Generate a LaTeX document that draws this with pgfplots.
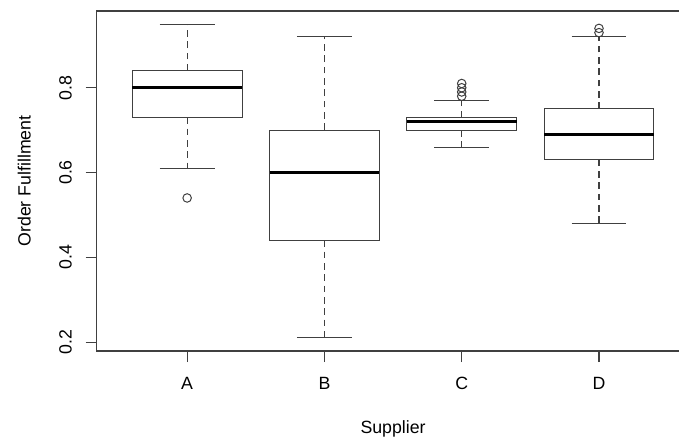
\documentclass[border=0pt]{standalone}
\usepackage{fontspec}
\setmainfont{Liberation Sans}
\usepackage{pgfplots}
\pgfplotsset{compat=1.18}
\usepgfplotslibrary{statistics}
\definecolor{frame}{gray}{0.25}
\pgfplotsset{
  rbox/.style={
    mark=o,
    mark size=3.2pt,
    mark options={solid, draw=frame, line width=0.75pt},
    boxplot/draw direction=y,
    boxplot/box extend=0.8,
    boxplot/whisker extend=0.4,
    boxplot/every box/.style={draw=frame, line width=0.8pt, fill=white},
    boxplot/every median/.style={draw=black, line width=2.5pt},
    boxplot/draw/lower whisker/.code={%
      \draw[draw=frame, line width=0.8pt, dash pattern=on 5pt off 3.5pt]
        (boxplot box cs:\pgfplotsboxplotvalue{lower quartile},0.5) --
        (boxplot box cs:\pgfplotsboxplotvalue{lower whisker},0.5);
      \draw[draw=frame, line width=0.8pt]
        (boxplot whisker cs:\pgfplotsboxplotvalue{lower whisker},0) --
        (boxplot whisker cs:\pgfplotsboxplotvalue{lower whisker},1);
    },
    boxplot/draw/upper whisker/.code={%
      \draw[draw=frame, line width=0.8pt, dash pattern=on 5pt off 3.5pt]
        (boxplot box cs:\pgfplotsboxplotvalue{upper quartile},0.5) --
        (boxplot box cs:\pgfplotsboxplotvalue{upper whisker},0.5);
      \draw[draw=frame, line width=0.8pt]
        (boxplot whisker cs:\pgfplotsboxplotvalue{upper whisker},0) --
        (boxplot whisker cs:\pgfplotsboxplotvalue{upper whisker},1);
    },
  }
}
\begin{document}
\begin{tikzpicture}[font=\fontsize{13.3pt}{16pt}\selectfont]
\useasboundingbox (0,0) rectangle (509.25pt,327.75pt);
\clip (0,0) rectangle (509.25pt,327.75pt);
\begin{axis}[
  at={(72.4pt,64.5pt)}, anchor=south west,
  scale only axis, width=444.8pt, height=255pt,
  xmin=0.34, xmax=4.66, ymin=0.179, ymax=0.981,
  xtick={1,2,3,4}, xticklabels={A,B,C,D},
  ytick={0.2,0.4,0.6,0.8},
  yticklabels={0.2,0.4,0.6,0.8},
  tick pos=left, tick align=outside,
  major tick length=8.25pt,
  every tick/.style={draw=frame, line width=0.8pt},
  axis line style={draw=frame, line width=0.8pt},
  xticklabel style={anchor=base, yshift=-20.6pt},
  yticklabel style={xshift=-10.4pt, rotate=90, anchor=base},
  xlabel={Supplier}, ylabel={Order Fulfillment},
  every axis x label/.style={at={(axis description cs:0.5,0)}, anchor=base, yshift=-61.5pt},
  every axis y label/.style={at={(axis description cs:0,0.5)}, xshift=-49.5pt, rotate=90, anchor=base},
  clip=false,
]
\addplot[rbox, boxplot prepared={draw position=1,
  lower whisker=0.61, lower quartile=0.73, median=0.80,
  upper quartile=0.84, upper whisker=0.95}]
  table[row sep=\\, y index=0] {v\\ 0.54\\};
\addplot[rbox, boxplot prepared={draw position=2,
  lower whisker=0.21, lower quartile=0.44, median=0.60,
  upper quartile=0.70, upper whisker=0.92}]
  coordinates {};
\addplot[rbox, boxplot prepared={draw position=3,
  lower whisker=0.66, lower quartile=0.70, median=0.72,
  upper quartile=0.73, upper whisker=0.77}]
  table[row sep=\\, y index=0] {v\\ 0.78\\ 0.79\\ 0.80\\ 0.81\\};
\addplot[rbox, boxplot prepared={draw position=4,
  lower whisker=0.48, lower quartile=0.63, median=0.69,
  upper quartile=0.75, upper whisker=0.92}]
  table[row sep=\\, y index=0] {v\\ 0.93\\ 0.94\\};
\end{axis}
\end{tikzpicture}
\end{document}
